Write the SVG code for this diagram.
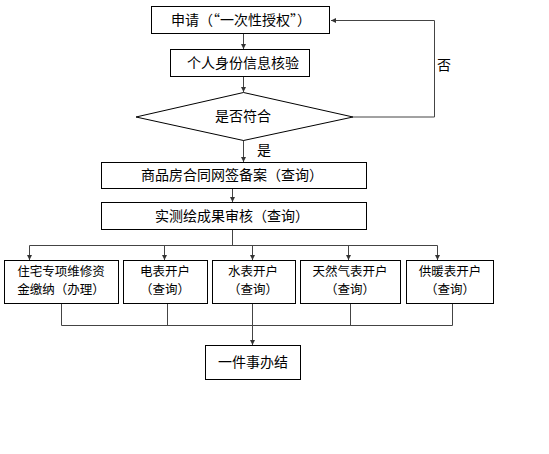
<svg xmlns="http://www.w3.org/2000/svg" width="549" height="454" viewBox="0 0 549 454">
<defs>
<marker id="ah" markerWidth="6" markerHeight="6" refX="5" refY="3" orient="auto" markerUnits="userSpaceOnUse">
<path d="M0,0.5 L5,3 L0,5.5 z" fill="#333"/>
</marker>
<style>
.box{fill:#fff;stroke:#000;stroke-width:1}
.t{font-family:"Noto Sans CJK SC","Noto Sans",sans-serif;font-size:14px;fill:#000;text-anchor:middle}
.s{font-size:12.5px}
.c{fill:none;stroke:#444;stroke-width:1}
.ca{fill:none;stroke:#444;stroke-width:1;marker-end:url(#ah)}
</style>
</defs>
<rect width="549" height="454" fill="#fff"/>
<g id="connectors">
<line class="ca" x1="243.5" y1="33" x2="243.5" y2="49"/>
<line class="ca" x1="243.5" y1="77" x2="243.5" y2="92"/>
<polyline class="ca" points="353,117 434.5,117 434.5,20.5 331,20.5"/>
<line class="ca" x1="243.5" y1="140" x2="243.5" y2="162"/>
<line class="ca" x1="232.5" y1="188" x2="232.5" y2="202"/>
<line class="c" x1="232.5" y1="230" x2="232.5" y2="245.5"/>
<line class="c" x1="29.5" y1="245.5" x2="437.5" y2="245.5"/>
<line class="ca" x1="29.5" y1="245.5" x2="29.5" y2="260"/>
<line class="ca" x1="164.5" y1="245.5" x2="164.5" y2="260"/>
<line class="ca" x1="252.5" y1="245.5" x2="252.5" y2="260"/>
<line class="ca" x1="348.5" y1="245.5" x2="348.5" y2="260"/>
<line class="ca" x1="437.5" y1="245.5" x2="437.5" y2="260"/>
<polyline class="c" points="61.5,303 61.5,325.5 452.5,325.5 452.5,303"/>
<line class="c" x1="167.5" y1="303" x2="167.5" y2="325.5"/>
<line class="c" x1="350.5" y1="303" x2="350.5" y2="325.5"/>
<line class="ca" x1="252.5" y1="303" x2="252.5" y2="345"/>
<text class="t" x="444" y="70">否</text>
<text class="t" x="264" y="155">是</text>
</g>
<g id="n1"><rect class="box" x="151.5" y="6.5" width="178" height="27"/><text class="t" x="241" y="25">申请（“一次性授权”）</text></g>
<g id="n2"><rect class="box" x="170.5" y="49.5" width="139" height="27"/><text class="t" x="243" y="68">个人身份信息核验</text></g>
<g id="n3"><polygon class="box" points="136,117 243.5,92.5 353,117 243.5,140.5"/><text class="t" x="243" y="121">是否符合</text></g>
<g id="n4"><rect class="box" x="101.5" y="162.5" width="265" height="26"/><text class="t" x="232" y="180">商品房合同网签备案（查询）</text></g>
<g id="n5"><rect class="box" x="101.5" y="202.5" width="265" height="27"/><text class="t" x="232" y="221">实测绘成果审核（查询）</text></g>
<g id="n6"><rect class="box" x="4.5" y="260.5" width="114" height="43"/><text class="t s" x="61" y="275.5">住宅专项维修资</text><text class="t s" x="61" y="294">金缴纳（办理）</text></g>
<g id="n7"><rect class="box" x="123.5" y="260.5" width="84" height="43"/><text class="t s" x="165" y="275.5">电表开户</text><text class="t s" x="165" y="294">（查询）</text></g>
<g id="n8"><rect class="box" x="212.5" y="260.5" width="83" height="43"/><text class="t s" x="253" y="275.5">水表开户</text><text class="t s" x="253" y="294">（查询）</text></g>
<g id="n9"><rect class="box" x="300.5" y="260.5" width="100" height="43"/><text class="t s" x="350" y="275.5">天然气表开户</text><text class="t s" x="350" y="294">（查询）</text></g>
<g id="n10"><rect class="box" x="406.5" y="260.5" width="87" height="43"/><text class="t s" x="450" y="275.5">供暖表开户</text><text class="t s" x="450" y="294">（查询）</text></g>
<g id="n11"><rect class="box" x="205.5" y="345.5" width="95" height="34"/><text class="t" x="253" y="367">一件事办结</text></g>
</svg>
